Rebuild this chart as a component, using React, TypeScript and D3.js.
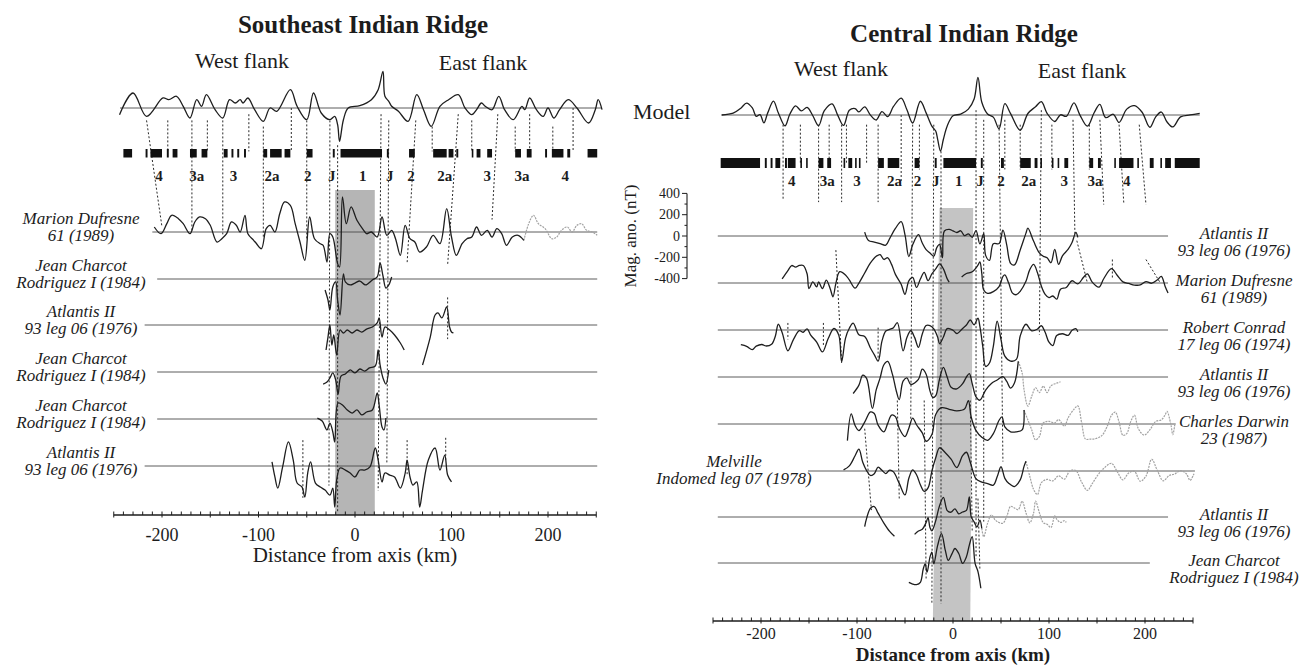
import React from 'react';
import * as d3 from 'd3';

type P = [number, number];

// ---------------- LEFT PANEL DATA (Southeast Indian Ridge) ----------------
const seirModel: P[] = [[-244,-63],[-230,141],[-216,-78],[-199,94],[-193,78],[-185,110],[-178,16],[-171,-94],[-164,78],[-159,16],[-154,125],[-145,-16],[-137,-94],[-130,78],[-124,47],[-119,78],[-116,47],[-111,94],[-104,-16],[-95,-125],[-88,0],[-81,-31],[-67,172],[-60,16],[-50,-110],[-43,141],[-35,-47],[-26,-110],[-21,-78],[-18,-157],[-16,-313],[-12,-110],[-7,0],[5,22],[17,78],[24,172],[29,344],[31,110],[35,63],[38,16],[45,-31],[55,-125],[64,125],[71,-16],[79,-172],[88,16],[97,78],[107,125],[114,0],[121,-63],[126,-16],[131,47],[135,16],[142,-16],[149,110],[155,-16],[164,-110],[173,16],[176,-16],[181,94],[188,-16],[195,-78],[200,0],[206,-94],[212,-16],[221,78],[230,0],[242,-141],[249,-16],[252,78],[256,-16]];

const seirBlocks: P[] = [[-240,-231],[-217,-215],[-212,-200],[-195,-193],[-189,-184],[-171,-164],[-159,-153],[-136,-132],[-128,-126],[-122,-120],[-115,-113],[-95,-91],[-88,-76],[-73,-67],[-50,-44],[-23,-21],[-15,28],[33,35],[56,62],[81,95],[97,102],[105,107],[121,122],[126,130],[137,142],[166,172],[178,183],[197,199],[204,216],[220,223],[241,251]];

const chronNames = ['4','3a','3','2a','2','J','1','J','2','2a','3','3a','4'];
const seirChronKm = [-203,-164,-126,-86,-49,-24,8,36,58,93,137,173,218];

const seirMarion: P[] = [[-208,47],[-201,-16],[-195,78],[-190,157],[-183,125],[-178,78],[-171,-16],[-166,94],[-161,141],[-155,125],[-150,63],[-143,-94],[-138,-63],[-133,-16],[-128,94],[-123,63],[-119,0],[-114,157],[-111,-16],[-105,-78],[-102,-110],[-97,-157],[-92,31],[-88,63],[-83,0],[-78,172],[-73,282],[-67,250],[-62,78],[-57,-94],[-52,-266],[-47,141],[-42,-63],[-36,-110],[-33,-125],[-29,-282],[-26,-16],[-23,-47],[-18,-297],[-16,-329],[-13,329],[-9,78],[-4,235],[2,110],[9,16],[12,-16],[17,0],[23,-47],[28,141],[33,-31],[38,16],[42,-63],[47,-219],[52,63],[57,-63],[62,-94],[67,-188],[74,-141],[81,-31],[88,-110],[95,219],[100,-47],[105,-219],[111,-110],[116,-63],[121,-47],[126,47],[131,-31],[137,16],[142,-47],[147,31],[152,-16],[157,-125],[163,-47],[169,-31],[175,-78]];
const seirMarionGray: P[] = [[175,-78],[180,78],[185,157],[190,78],[197,31],[204,-63],[209,-47],[214,16],[220,47],[225,0],[230,63],[235,78],[240,16],[246,0],[251,-31]];
const seirCharcotA: P[] = [[-31,-103],[-28,-197],[-26,-291],[-23,-75],[-20,-28],[-18,-197],[-15.5,-338],[-12,47],[-10,-28],[-5,-56],[0,-38],[5,-19],[11,-56],[18,-9],[23,19],[26,150],[29,28],[32,-85],[35,-56],[38,19]];
const seirAtlantisA: P[] = [[-30,-235],[-28,-113],[-26,0],[-24,-188],[-22,-94],[-19,-282],[-15.5,-47],[-12,-75],[-8,-47],[-3,-75],[2,-47],[7,-66],[12,-38],[18,-19],[23,19],[25,66],[28,-113],[31,-19],[36,-47],[41,-94],[47,-169],[51,-235]];
const seirAtlantisA2: P[] = [[70,-376],[78,-113],[83,94],[86,113],[90,66],[95,169],[98,-19],[100,-66],[102,-75]];
const seirCharcotB: P[] = [[-33,-113],[-29,-94],[-26,-56],[-23,-9],[-20,-75],[-17.5,-207],[-14.5,-38],[-10,-19],[-5,19],[0,-9],[5,28],[10,9],[15,38],[21,56],[24,207],[26,66],[29,-56],[32,-113],[35,19]];
const seirCharcotC: P[] = [[-39,9],[-34,-19],[-29,-103],[-26,-38],[-23,-122],[-21,-216],[-17.5,150],[-13,132],[-8,85],[-3,56],[2,85],[7,38],[12,66],[18,85],[23,244],[25,132],[28,-75],[30,-103],[32,9]];
const seirAtlantisB: P[] = [[-86,38],[-83,-103],[-80,-207],[-75,-9],[-69,226],[-64,56],[-60,-160],[-55,-197],[-52,-291],[-49,-66],[-46,38],[-41,-160],[-36,-197],[-31,-226],[-26,-273],[-23,-207],[-21,-385],[-19,-132],[-15.5,-19],[-10,-38],[-5,-66],[0,-103],[5,-38],[10,-38],[15.5,-9],[21,169],[24,56],[28,-150],[31,-66],[36,-85],[41,-103],[47,-207],[52,-66],[54,56],[57,-103],[60,-179],[64,-150],[67,-385],[70,-226],[76,56],[83,169],[88,-38],[93,103],[96,-85],[100,-150]];

const seirNames: [string, string][] = [
  ['Marion Dufresne', '61 (1989)'],
  ['Jean Charcot', 'Rodriguez I (1984)'],
  ['Atlantis II', '93 leg 06 (1976)'],
  ['Jean Charcot', 'Rodriguez I (1984)'],
  ['Jean Charcot', 'Rodriguez I (1984)'],
  ['Atlantis II', '93 leg 06 (1976)'],
];
const seirDark: P[][][] = [[seirMarion], [seirCharcotA], [seirAtlantisA, seirAtlantisA2], [seirCharcotB], [seirCharcotC], [seirAtlantisB]];
const seirGray: P[][][] = [[seirMarionGray], [], [], [], [], []];
const seirLineFrom = [-210, -205, -218, -205, -205, -218];

// [kmTop, levelTop, kmBottom, levelBottom]
const seirLinks: [number, number, number, number][] = [
  [-216,0.1,-200,0.96],[-194,0.1,-194,0.35],[-169,0.1,-169,1.0],[-153,0.1,-153,0.35],[-137,0.1,-137,1.05],[-110,0.05,-110,0.35],[-95,0.15,-95,1.1],[-66,0.0,-66,0.35],[-50,0.1,-50,1.15],
  [-26,0.1,-27,6.4],[-18,0.3,-18,6.93],[27,0.05,24,6.5],[35,0.1,33,5.94],
  [63,0.1,54,1.66],[80,0.15,80,0.35],[107,0.05,96,1.7],[121,0.1,121,0.35],[148,0.05,142,0.9],[166,0.15,166,0.35],[181,0.05,181,0.35],[205,0.15,205,0.35],[226,0.0,226,0.35],
  [96,2.4,96,3.3],[-54,5.45,-54,6.65],[54,5.45,54,6.2],[94,5.4,94,5.9],
];

// ---------------- RIGHT PANEL DATA (Central Indian Ridge) ----------------
const cirModel: P[] = [[-241,0],[-229,17],[-221,64],[-215,112],[-209,66],[-205,-12],[-201,4],[-197,-74],[-193,20],[-187,130],[-182,21],[-175,-103],[-170,7],[-164,86],[-158,39],[-152,71],[-146,-7],[-140,-100],[-134,41],[-126,105],[-120,-4],[-114,-98],[-108,44],[-102,60],[-98,29],[-92,77],[-86,-1],[-80,-47],[-74,31],[-68,-15],[-62,80],[-54,158],[-48,49],[-42,-75],[-34,129],[-28,20],[-22,-105],[-18,-151],[-16,-229],[-13,-338],[-10,-228],[-6,-103],[0,-8],[8,8],[16,55],[22,150],[26,354],[30,120],[36,10],[42,-20],[48,-129],[54,106],[60,13],[70,-143],[78,14],[86,78],[92,125],[98,16],[106,-61],[112,2],[118,-13],[126,113],[132,4],[140,-105],[147,21],[153,100],[159,-25],[167,7],[173,-70],[181,55],[189,88],[197,26],[205,-115],[211,-20],[217,28],[223,-66],[229,-112],[237,-18],[247,1],[257,16]];

const cirBlocks: P[] = [[-242,-201],[-196,-194],[-190,-188],[-185,-180],[-175,-173],[-172,-164],[-159,-158],[-153,-152],[-140,-135],[-131,-127],[-114,-113],[-109,-105],[-102,-101],[-98,-97],[-78,-72],[-68,-56],[-40,-35],[-19,-17],[-10,24],[29,31],[50,53],[70,81],[85,88],[91,92],[103,104],[109,110],[116,120],[142,146],[151,154],[168,169],[173,188],[192,193],[205,209],[216,217],[221,227],[231,257]];
const cirChronKm = [-168,-131,-100,-61,-37,-18,6,28,50,79,116,148,181];

const cirAtlantisA: P[] = [[-92,36],[-88,-42],[-82,-57],[-76,-72],[-70,-86],[-66,-24],[-60,71],[-54,135],[-50,10],[-46,-193],[-42,-83],[-36,12],[-32,-66],[-28,-128],[-24,-159],[-20,-190],[-17,-111],[-14,-79],[-11,-204],[-9,47],[-4,63],[0,48],[4,33],[8,49],[12,3],[16,19],[20,-12],[24,51],[28,-74],[32,21],[34,-182],[38,-228],[42,-72],[48,-71],[52,55],[56,-85],[60,-257],[64,-272],[70,-131],[76,27],[78,74],[84,-50],[90,-159],[94,-190],[98,-205],[102,-251],[106,-126],[110,-266],[114,-187],[120,-124],[124,-61],[128,34],[130,-13]];
const cirMarionW: P[] = [[-178,38],[-172,117],[-168,164],[-164,149],[-160,165],[-156,165],[-152,87],[-150,-53],[-146,10],[-142,-37],[-140,10],[-136,-52],[-132,27],[-128,-51],[-125,-129],[-122,-3],[-118,106],[-112,76],[-108,29],[-102,-49],[-98,-1],[-92,94],[-86,188],[-80,251],[-76,267],[-72,221],[-68,237],[-64,175],[-60,81],[-54,-12],[-50,-106],[-46,20],[-42,52],[-38,-42],[-34,37],[-30,100],[-26,22],[-22,85],[-18,132],[-14,180],[-10,133],[-6,39],[-4,8]];
const cirMarionE: P[] = [[9,57],[14,89],[20,105],[26,168],[28,199],[30,90],[32,-66],[36,-97],[42,-81],[48,-33],[52,61],[54,77],[58,-1],[62,-95],[66,-110],[70,-78],[76,16],[80,126],[84,174],[88,96],[92,-29],[96,-107],[100,-138],[104,-122],[108,-152],[112,-58],[118,-42],[124,21],[130,-9],[136,54],[140,85],[145,8],[152,-39],[157,40],[165,135],[171,73],[177,11],[183,-4],[189,-19],[195,-18],[201,13],[207,-2],[213,30],[217,62],[221,-32],[224,-94]];
const cirConrad: P[] = [[-221,-138],[-215,-153],[-209,-184],[-205,-152],[-199,-136],[-195,-150],[-189,-134],[-185,-56],[-182,54],[-178,-23],[-172,-195],[-166,-85],[-160,-6],[-156,-21],[-152,11],[-148,-51],[-142,-113],[-136,-206],[-130,-80],[-124,14],[-119,-48],[-116,-298],[-112,-78],[-108,16],[-104,64],[-98,-45],[-92,-60],[-86,-169],[-82,-231],[-78,-293],[-74,-105],[-70,-10],[-66,6],[-62,22],[-58,69],[-52,-196],[-48,-70],[-44,-7],[-40,-69],[-36,-163],[-32,-37],[-28,42],[-24,42],[-20,11],[-16,-66],[-14,-129],[-10,-66],[-6,13],[0,-2],[4,-33],[10,15],[14,47],[18,94],[22,48],[26,111],[28,33],[31,-155],[34,-342],[38,-310],[42,-153],[46,82],[50,-90],[54,-246],[60,-292],[66,-276],[70,-56],[76,54],[82,-8],[88,9],[92,40],[96,-22],[100,-115],[104,-146],[108,-51],[114,-35],[120,-50],[124,-3],[128,13],[130,-18]];
const cirAtlantisB: P[] = [[-104,-155],[-98,-76],[-94,18],[-90,-13],[-84,-294],[-80,-121],[-76,-11],[-72,115],[-68,146],[-63,22],[-59,-134],[-56,-212],[-52,-39],[-48,-8],[-44,-70],[-36,-22],[-32,73],[-28,26],[-24,-130],[-21,-192],[-18,-176],[-14,-19],[-10,91],[-6,-3],[-2,-96],[4,-111],[10,-63],[14,0],[17,31],[20,-62],[24,-187],[28,-218],[34,-123],[40,-60],[46,-28],[52,4],[56,-42],[60,-104],[64,-57],[68,147]];
const cirAtlantisBGray: P[] = [[68,147],[72,38],[74,-118],[78,-274],[82,-180],[86,-101],[90,-147],[94,-85],[98,-146],[102,-83],[108,-58],[112,-45]];
const cirDarwin: P[] = [[-110,-156],[-106,95],[-102,-14],[-98,-61],[-92,18],[-86,113],[-82,98],[-78,-11],[-72,-73],[-68,6],[-64,84],[-60,69],[-56,-40],[-50,-118],[-46,-39],[-42,55],[-38,-7],[-32,-84],[-28,-162],[-22,-99],[-18,90],[-12,153],[-4,138],[4,124],[12,140],[16,219],[19,63],[24,-62],[30,-124],[36,-154],[42,-91],[48,35],[51,66],[54,-27],[60,-73],[66,-73],[72,-56],[74,132]];
const cirDarwinGray: P[] = [[74,132],[78,38],[82,-55],[86,-149],[90,-117],[94,9],[100,25],[106,10],[110,42],[116,-20],[120,59],[126,138],[130,170],[134,13],[138,-142],[142,-142],[147,-141],[155,-109],[161,-14],[165,80],[169,112],[173,18],[177,-106],[181,-90],[185,20],[189,83],[193,-42],[199,-104],[205,-56],[211,23],[217,39],[221,86],[223,118],[227,-7],[229,-100],[231,-6]];
const cirMelville: P[] = [[-114,10],[-108,48],[-102,143],[-98,206],[-94,82],[-90,4],[-86,-42],[-82,-26],[-78,37],[-74,6],[-70,-24],[-66,8],[-62,-8],[-56,-116],[-50,-225],[-46,-68],[-42,11],[-38,-35],[-34,-129],[-30,-191],[-26,-159],[-22,-2],[-18,124],[-14,218],[-8,172],[-2,111],[4,33],[10,144],[14,176],[18,82],[24,-74],[30,-104],[36,-119],[42,-133],[46,-55],[50,40],[54,-69],[58,-115],[64,-146],[70,-83],[74,43],[76,91]];
const cirMelvilleGray: P[] = [[76,91],[80,-50],[84,-174],[88,-221],[92,-110],[98,-79],[104,-93],[110,-45],[116,-76],[122,3],[128,4],[134,-105],[140,-182],[145,-119],[152,-24],[157,24],[165,72],[171,-5],[177,-83],[183,-19],[189,-3],[195,-96],[201,-48],[207,110],[213,1],[219,-92],[225,-44],[231,-28],[237,4],[243,-26],[247,-88],[251,-25]];
const cirAtlantisC1: P[] = [[-92,-91],[-90,-13],[-86,82],[-82,98],[-78,36],[-72,-57],[-66,-135],[-61,-181]];
const cirAtlantisC2: P[] = [[-40,-163],[-36,-131],[-32,-115],[-28,-52],[-26,-5],[-24,-98],[-22,-130],[-18,-35],[-14,106],[-10,185],[-6,60],[-2,45],[2,77],[6,30],[10,47],[14,63],[17,188],[19,1],[22,-46],[25,-93],[28,-29],[30,-108]];
const cirAtlantisCGray: P[] = [[30,-108],[32,-186],[36,-60],[40,19],[44,-28],[48,-52],[52,-58],[56,5],[60,100],[64,84],[68,69],[72,148],[76,39],[80,-55],[84,40],[86,150],[90,40],[94,-53],[98,-68],[102,-99],[106,11],[108,-20],[112,-51],[116,-35],[118,-50]];
const cirCharcot: P[] = [[-46,-182],[-42,-198],[-38,-203],[-34,-181],[-31,-56],[-29,-8],[-27,-86],[-24,55],[-22,102],[-20,-8],[-16,165],[-12,275],[-8,119],[-5,25],[-1,88],[2,136],[6,89],[10,-4],[14,59],[17,168],[20,247],[23,-3],[26,-81],[29,-237]];

const cirNames: [string, string][] = [
  ['Atlantis II', '93 leg 06 (1976)'],
  ['Marion Dufresne', '61 (1989)'],
  ['Robert Conrad', '17 leg 06 (1974)'],
  ['Atlantis II', '93 leg 06 (1976)'],
  ['Charles Darwin', '23 (1987)'],
  ['Melville', 'Indomed leg 07 (1978)'],
  ['Atlantis II', '93 leg 06 (1976)'],
  ['Jean Charcot', 'Rodriguez I (1984)'],
];
const cirDark: P[][][] = [[cirAtlantisA], [cirMarionW, cirMarionE], [cirConrad], [cirAtlantisB], [cirDarwin], [cirMelville], [cirAtlantisC1, cirAtlantisC2], [cirCharcot]];
const cirGray: P[][][] = [[], [], [], [cirAtlantisBGray], [cirDarwinGray], [cirMelvilleGray], [cirAtlantisCGray], []];
const cirLineSpan: P[] = [[-245,224],[-245,224],[-245,224],[-245,224],[-245,232],[-151,252],[-245,224],[-245,205]];
const cirLinks: [number, number, number, number][] = [
  [-177,0.08,-177,0.7],[-159,0.08,-159,0.4],[-140,0.08,-140,0.72],[-129,0.08,-129,0.4],[-116,0.08,-116,0.72],[-122,1.3,-116,3.7],[-111,0.08,-111,0.4],[-90,0.08,-90,0.4],[-78,0.08,-78,0.72],[-54,0.0,-54,0.55],
  [-42,0.08,-44,4.9],[-35,0.08,-35,0.45],[-20,0.08,-22,8.7],[-12.5,0.3,-12.5,8.7],[24,-0.04,24,7.9],[32,0.04,32,7.1],[48,0.08,52,5.8],[54,0.04,54,0.45],[70,0.08,70,0.45],[92,-0.04,90,3.1],[103,0.08,103,0.45],
  [125,0.04,127,1.0],[129,1.1,140,2.0],[142,0.08,142,0.45],[153,0.04,157,0.74],[166,1.5,166,1.9],[173,0.08,178,0.74],[194,0.08,201,0.74],[201,1.5,216,2.0],
  [-172,2.85,-172,3.2],[-135,2.85,-135,3.35],[-78,2.95,-78,3.6],[-92,5.1,-85,6.85],[-58,4.5,-56,6.6],[-30,4.5,-28,8.3],[18,4.5,20,7.3],[26,6.6,28,8.1],
];

const tickLabelsKm = [-200, -100, 0, 100, 200];
const magTicks = [400, 200, 0, -200, -400];

// ---------------- STYLE ----------------
const FONT = '"Liberation Serif", "DejaVu Serif", serif';
const INK = '#1c1c1c';

const amp = d3.scaleLinear().domain([0, 200]).range([0, -21.3]);

function curve(x: d3.ScaleLinear<number, number>, y0: number) {
  return d3.line<P>().x(d => x(d[0])).y(d => y0 + amp(d[1])).curve(d3.curveCatmullRom.alpha(0.5));
}

function Axis({ x, y, bold }: { x: d3.ScaleLinear<number, number>; y: number; bold: boolean }) {
  const ticks = d3.range(-250, 251, 10);
  return (
    <g>
      <line x1={x(-250)} x2={x(250)} y1={y} y2={y} stroke={INK} strokeWidth={1.3} />
      {ticks.map(t => (
        <line key={t} x1={x(t)} x2={x(t)} y1={t % 50 === 0 ? y + 2.5 : y} y2={y - 3.5} stroke={INK} strokeWidth={1} />
      ))}
      {tickLabelsKm.map(t => (
        <text key={t} x={x(t)} y={y + (bold ? 18 : 26)} textAnchor="middle" fontSize={bold ? 16 : 18} fontFamily={FONT} fill={INK}>{t}</text>
      ))}
      <text x={x(0)} y={y + (bold ? 40 : 47)} textAnchor="middle" fontSize={bold ? 19 : 21} fontWeight={bold ? 'bold' : 'normal'} fontFamily={FONT} fill={INK}>Distance from axis (km)</text>
    </g>
  );
}

function Blocks({ x, blocks, y, h }: { x: d3.ScaleLinear<number, number>; blocks: P[]; y: number; h: number }) {
  return (
    <g>
      {blocks.map((b, i) => (
        <rect key={i} x={x(b[0])} y={y} width={Math.max(1.6, x(b[1]) - x(b[0]))} height={h} fill="#111" />
      ))}
    </g>
  );
}

export default function App() {
  // Left panel scales
  const xL = d3.scaleLinear().domain([-250, 250]).range([355 - 241.25, 355 + 241.25]);
  const levL = d3.scaleLinear().domain([0, 1, 2, 3, 4, 5, 6, 7]).range([108, 232, 279, 325, 372, 419, 466, 515]);
  // Right panel scales
  const xR = d3.scaleLinear().domain([-250, 250]).range([953 - 240, 953 + 240]);
  const levR = d3.scaleLinear().domain([0, 1, 2, 3, 4, 5, 6, 7, 8, 9]).range([115, 236, 283, 330, 377, 424, 471, 517, 563, 621]);
  const magY = d3.scaleLinear().domain([-400, 400]).range([levR(1) + 42.6, levR(1) - 42.6]);

  const dark = { fill: 'none', stroke: '#1e1e1e', strokeWidth: 1.3, strokeLinejoin: 'round' as const };
  const gray = { fill: 'none', stroke: '#a2a2a2', strokeWidth: 1.2, strokeDasharray: '2 1' };
  const dotted = { stroke: '#2a2a2a', strokeWidth: 1, strokeDasharray: '2 2' };
  const base = { stroke: '#4a4a4a', strokeWidth: 0.9 };

  return (
    <div style={{ position: 'fixed', left: 0, top: 0, background: '#fff' }}>
      <svg width={1311} height={666} viewBox="0 0 1311 666" style={{ display: 'block' }}>
        <rect width={1311} height={666} fill="#fff" />

        {/* ================= LEFT PANEL ================= */}
        <g>
          <rect x={xL(-20.5)} y={190} width={xL(20.5) - xL(-20.5)} height={levL(7) - 190} fill="#b5b5b5" />
          <text x={363} y={33} textAnchor="middle" fontSize={25} fontWeight="bold" fontFamily={FONT} fill={INK}>Southeast Indian Ridge</text>
          <text x={242} y={68} textAnchor="middle" fontSize={22} fontFamily={FONT} fill={INK}>West flank</text>
          <text x={483} y={70} textAnchor="middle" fontSize={22} fontFamily={FONT} fill={INK}>East flank</text>

          {/* correlation lines */}
          {seirLinks.map((l, i) => (
            <line key={i} x1={xL(l[0])} y1={levL(l[1])} x2={xL(l[2])} y2={levL(l[3])} {...dotted} />
          ))}

          {/* model */}
          <line x1={120} x2={602} y1={levL(0)} y2={levL(0)} {...base} />
          <path d={curve(xL, levL(0))(seirModel) || ''} {...dark} />
          <Blocks x={xL} blocks={seirBlocks} y={149} h={8.5} />
          {chronNames.map((c, i) => (
            <text key={i} x={xL(seirChronKm[i])} y={181} textAnchor="middle" fontSize={15} fontWeight="bold" fontFamily={FONT} fill={INK}>{c}</text>
          ))}

          {/* profiles */}
          {seirNames.map((nm, i) => {
            const y0 = levL(i + 1);
            return (
              <g key={i}>
                <line x1={xL(seirLineFrom[i])} x2={xL(251)} y1={y0} y2={y0} {...base} />
                {seirGray[i].map((s, j) => <path key={'g' + j} d={curve(xL, y0)(s) || ''} {...gray} />)}
                {seirDark[i].map((s, j) => <path key={'d' + j} d={curve(xL, y0)(s) || ''} {...dark} />)}
                <text x={81} y={y0 - 8} textAnchor="middle" fontSize={17} fontStyle="italic" fontFamily={FONT} fill={INK}>{nm[0]}</text>
                <text x={81} y={y0 + 9} textAnchor="middle" fontSize={17} fontStyle="italic" fontFamily={FONT} fill={INK}>{nm[1]}</text>
              </g>
            );
          })}
          <Axis x={xL} y={levL(7)} bold={false} />
        </g>

        {/* ================= RIGHT PANEL ================= */}
        <g>
          <polygon points={[[xR(-14), 208], [xR(21), 208], [xR(18), levR(9)], [xR(-21), levR(9)]].map(p => p.join(',')).join(' ')} fill="#c4c4c4" />
          <text x={964} y={42} textAnchor="middle" fontSize={25} fontWeight="bold" fontFamily={FONT} fill={INK}>Central Indian Ridge</text>
          <text x={841} y={76} textAnchor="middle" fontSize={22} fontFamily={FONT} fill={INK}>West flank</text>
          <text x={1082} y={78} textAnchor="middle" fontSize={22} fontFamily={FONT} fill={INK}>East flank</text>
          <text x={633} y={119} fontSize={22} fontFamily={FONT} fill={INK}>Model</text>

          {cirLinks.map((l, i) => (
            <line key={i} x1={xR(l[0])} y1={levR(l[1])} x2={xR(l[2])} y2={levR(l[3])} {...dotted} />
          ))}

          <line x1={xR(-241)} x2={xR(257)} y1={levR(0)} y2={levR(0)} {...base} />
          <path d={curve(xR, levR(0))(cirModel) || ''} {...dark} />
          <Blocks x={xR} blocks={cirBlocks} y={158} h={10} />
          {chronNames.map((c, i) => (
            <text key={i} x={xR(cirChronKm[i])} y={186} textAnchor="middle" fontSize={15} fontWeight="bold" fontFamily={FONT} fill={INK}>{c}</text>
          ))}

          {/* magnetic anomaly scale bar */}
          <g>
            <line x1={687} x2={687} y1={magY(400)} y2={magY(-400)} stroke={INK} strokeWidth={1.1} />
            {d3.range(-400, 401, 100).map(v => (
              <line key={v} x1={v % 200 === 0 ? 682 : 684.5} x2={687} y1={magY(v)} y2={magY(v)} stroke={INK} strokeWidth={1} />
            ))}
            {magTicks.map(v => (
              <text key={v} x={680} y={magY(v) + 4.5} textAnchor="end" fontSize={14} fontFamily={FONT} fill={INK}>{v}</text>
            ))}
            <text transform={`translate(636, ${magY(0)}) rotate(-90)`} textAnchor="middle" fontSize={17} fontFamily={FONT} fill={INK}>Mag. ano. (nT)</text>
          </g>

          {cirNames.map((nm, i) => {
            const y0 = levR(i + 1);
            const span = cirLineSpan[i];
            const melville = i === 5;
            return (
              <g key={i}>
                <line x1={xR(span[0])} x2={xR(span[1])} y1={y0} y2={y0} {...base} />
                {cirGray[i].map((s, j) => <path key={'g' + j} d={curve(xR, y0)(s) || ''} {...gray} />)}
                {cirDark[i].map((s, j) => <path key={'d' + j} d={curve(xR, y0)(s) || ''} {...dark} />)}
                <text x={melville ? 734 : 1234} y={y0 + (melville ? -4 : 3)} textAnchor="middle" fontSize={17} fontStyle="italic" fontFamily={FONT} fill={INK}>{nm[0]}</text>
                <text x={melville ? 734 : 1234} y={y0 + (melville ? 13 : 20)} textAnchor="middle" fontSize={17} fontStyle="italic" fontFamily={FONT} fill={INK}>{nm[1]}</text>
              </g>
            );
          })}
          <Axis x={xR} y={levR(9)} bold={true} />
        </g>
      </svg>
    </div>
  );
}
